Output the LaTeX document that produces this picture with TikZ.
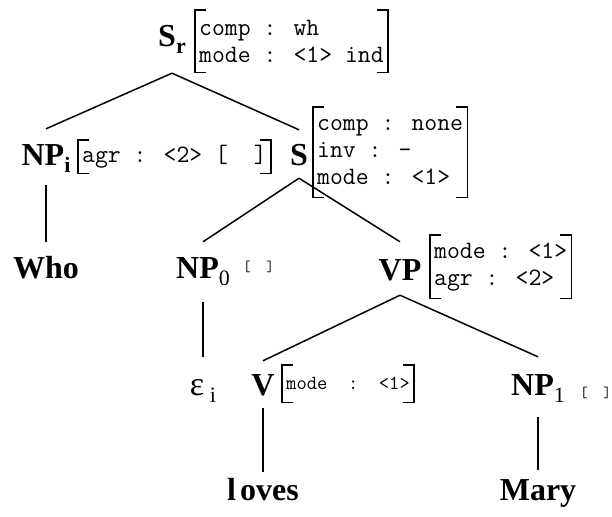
\documentclass[tikz,border=0pt]{standalone}
\usepackage{fontspec}
\setmainfont{Liberation Serif}
\usetikzlibrary{calc}
\def\brackets(#1){\draw[brk] ([xshift=11pt]#1.north west) -- (#1.north west) -- (#1.south west) -- ([xshift=11pt]#1.south west);
	\draw[brk] ([xshift=-11pt]#1.north east) -- (#1.north east) -- (#1.south east) -- ([xshift=-11pt]#1.south east);}
\newcommand\sub[1]{\raisebox{-7pt}{\fontsize{22}{22}\selectfont #1}}
\tikzset{
	cat/.style={font=\fontsize{32}{32}\selectfont\bfseries, inner sep=0pt, text height=22pt, text depth=0pt, anchor=base},
	fs/.style={font=\ttfamily\fontsize{25}{27}\selectfont, inner xsep=4pt, inner ysep=0pt, align=left, anchor=north west},
	tiny fs/.style={font=\ttfamily\fontsize{15}{15}\selectfont, inner sep=0pt, anchor=base west},
	tree/.style={line width=1.5pt},
	brk/.style={line width=1.3pt}
}
\begin{document}
\begin{tikzpicture}[x=1pt, y=-1pt]
		%%%%% START %%%%%
		\useasboundingbox (0, 0) rectangle (612, 516);
		
		\node[cat] (sr) at (172, 47) {S\sub{r}};
		\node[fs, minimum height=62pt] (srfs) at (195, 10) {comp : wh\\mode : <1> ind};
		\brackets(srfs)
		
		\node[cat] (npi) at (46, 165) {NP\sub{i}};
		\node[fs, minimum height=33pt] (npifs) at (78, 140) {agr : <2> [~~]};
		\brackets(npifs)
		
		\node[cat] (s) at (299, 165) {S};
		\node[fs, minimum height=90pt] (sfs) at (313, 107) {comp : none\\inv : -\\mode : <1>};
		\brackets(sfs)
		
		\node[cat] (who) at (46, 278) {Who};
		\node[cat] (npo) at (203, 278) {NP\sub{\mdseries 0}};
		\node[tiny fs] (npofs) at (243, 271) {[~~]};
		
		\node[cat] (vp) at (400, 280) {VP};
		\node[fs, minimum height=63pt] (vpfs) at (430, 235) {mode : <1>\\agr : <2>};
		\brackets(vpfs)
		
		\node[cat, font=\fontsize{34}{34}\selectfont] (eps) at (203, 395) {ε\,\sub{i}};
		\node[cat] (v) at (263, 395) {V};
		\node[fs, font=\ttfamily\fontsize{20}{20}\selectfont, minimum height=37pt] (vfs) at (282, 365) {mode~~:~~<1>};
		\brackets(vfs)
		
		\node[cat] (npl) at (538, 395) {NP\sub{\mdseries 1}};
		\node[tiny fs] (nplfs) at (580, 397) {[~~]};
		
		\node[cat] (loves) at (263, 500) {l\kern4pt oves};
		\node[cat] (mary) at (538, 500) {Mary};
		
		% branches
		\draw[tree] ([yshift=-26pt]sr.south) -- ([yshift=14pt]npi.north);
		\draw[tree] ([yshift=-26pt]sr.south) -- ([yshift=13pt]s.north);
		\draw[tree] ([yshift=-20pt]npi.south) -- ([yshift=14pt]who.north);
		\draw[tree] ([yshift=-13pt]s.south) -- ([yshift=14pt]npo.north);
		\draw[tree] ([yshift=-13pt]s.south) -- ([yshift=16pt]vp.north);
		\draw[tree] ([yshift=-24pt]npo.south) -- ([yshift=16pt]eps.north);
		\draw[tree] ([yshift=-15pt]vp.south) -- ([yshift=12pt]v.north);
		\draw[tree] ([yshift=-15pt]vp.south) -- ([yshift=16pt]npl.north);
		\draw[tree] ([yshift=-13pt]v.south) -- ([yshift=6pt]loves.north);
		\draw[tree] ([yshift=-22pt]npl.south) -- ([yshift=8pt]mary.north);
		
		%%%%% END %%%%%
	\end{tikzpicture}
\end{document}
